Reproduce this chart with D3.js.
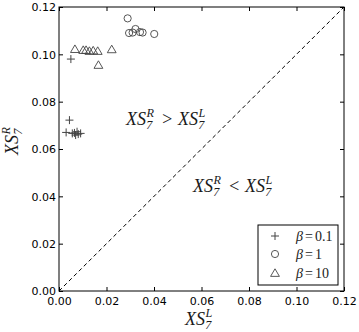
<!DOCTYPE html>
<html>
<head>
<meta charset="utf-8">
<script src="https://cdn.jsdelivr.net/npm/d3@7"></script>
<style>
  body { margin: 0; background: #fff; }
  .tick text { font-family: "DejaVu Sans", sans-serif; font-size: 11px; fill: #000; }
  .math { font-family: "Liberation Serif", serif; font-style: italic; fill: #1a1a1a; }
</style>
</head>
<body>
<div id="chart"></div>
<script>
// data: x = XS7^L, y = XS7^R
const beta01X = [0.0050, 0.0044, 0.0030, 0.0056, 0.0076, 0.0081, 0.0070, 0.0091, 0.0065];
const beta01Y = [0.0980, 0.0722, 0.0670, 0.0666, 0.0673, 0.0663, 0.0659, 0.0666, 0.0668];
const beta1X = [0.0289, 0.0295, 0.0310, 0.0322, 0.0341, 0.0352, 0.0401];
const beta1Y = [0.1152, 0.1090, 0.1092, 0.1107, 0.1094, 0.1092, 0.1086];
const beta10X = [0.0067, 0.0102, 0.0114, 0.0128, 0.0144, 0.0163, 0.0166, 0.0222];
const beta10Y = [0.1022, 0.1018, 0.1018, 0.1014, 0.1016, 0.1014, 0.0955, 0.1021];
const ticks = [0, 0.02, 0.04, 0.06, 0.08, 0.10, 0.12];
const legendLabels = ["0.1", "1", "10"];

const W = 359, H = 332;
const margin = {top: 7, right: 15, bottom: 41, left: 59};
const width = W - margin.left - margin.right;
const height = H - margin.top - margin.bottom;
const markColor = "#444";

const svg = d3.select("#chart").append("svg")
    .attr("width", W).attr("height", H);
const g = svg.append("g")
    .attr("transform", "translate(" + margin.left + "," + margin.top + ")");

const x = d3.scaleLinear().domain([0, 0.12]).range([0, width]);
const y = d3.scaleLinear().domain([0, 0.12]).range([height, 0]);

// axes, ticks pointing inwards on all four sides
const fmt = d3.format(".2f");
g.append("g").attr("class", "x-axis").attr("transform", "translate(0," + height + ")")
    .call(d3.axisBottom(x).tickValues(ticks).tickFormat(fmt).tickSizeInner(-4).tickSizeOuter(0).tickPadding(6));
g.append("g").attr("class", "y-axis")
    .call(d3.axisLeft(y).tickValues(ticks).tickFormat(fmt).tickSizeInner(-4).tickSizeOuter(0).tickPadding(3));
g.append("g")
    .call(d3.axisTop(x).tickValues(ticks).tickFormat("").tickSizeInner(-4).tickSizeOuter(0));
g.append("g").attr("transform", "translate(" + width + ",0)")
    .call(d3.axisRight(y).tickValues(ticks).tickFormat("").tickSizeInner(-4).tickSizeOuter(0));
g.selectAll(".domain").remove();
g.selectAll(".tick line").attr("stroke", "#000");
g.append("rect").attr("width", width).attr("height", height)
    .attr("fill", "none").attr("stroke", "#000").attr("stroke-width", 1);
g.select(".y-axis").selectAll(".tick text").attr("dy", "0.36em");

// diagonal
g.append("line")
    .attr("x1", x(0)).attr("y1", y(0)).attr("x2", x(0.12)).attr("y2", y(0.12))
    .attr("stroke", "#000").attr("stroke-dasharray", "4,3").attr("stroke-width", 1);

// markers
function drawPlus(sel, cx, cy, s) {
    sel.append("path")
        .attr("d", "M" + (cx - s) + "," + cy + "H" + (cx + s) + "M" + cx + "," + (cy - s) + "V" + (cy + s))
        .attr("stroke", markColor).attr("fill", "none").attr("stroke-width", 1);
}
function drawCircle(sel, cx, cy, r) {
    sel.append("circle").attr("cx", cx).attr("cy", cy).attr("r", r)
        .attr("stroke", markColor).attr("fill", "none").attr("stroke-width", 0.9);
}
function drawTri(sel, cx, cy, s) {
    sel.append("path")
        .attr("d", "M" + cx + "," + (cy - s) + "L" + (cx + s * 1.05) + "," + (cy + s * 0.8) + "L" + (cx - s * 1.05) + "," + (cy + s * 0.8) + "Z")
        .attr("stroke", markColor).attr("fill", "none").attr("stroke-width", 0.9);
}
beta01X.forEach((v, i) => drawPlus(g, x(v), y(beta01Y[i]), 4));
beta1X.forEach((v, i) => drawCircle(g, x(v), y(beta1Y[i]), 3.6));
beta10X.forEach((v, i) => drawTri(g, x(v), y(beta10Y[i]), 4.2));

// math label XS_7^sup
function mathXS(sel, px, py, size, sup) {
    let t = sel.append("text").attr("class", "math").attr("x", px).attr("y", py)
        .attr("font-size", size).text("XS");
    let w = t.node().getComputedTextLength();
    sel.append("text").attr("class", "math").attr("x", px + w + 0.5).attr("y", py - size * 0.42)
        .attr("font-size", size * 0.68).text(sup);
    sel.append("text").attr("class", "math").attr("x", px + w + 0.2).attr("y", py + size * 0.24)
        .attr("font-size", size * 0.68).text("7");
    return w + size * 0.55;
}
function compare(sel, px, py, size, op) {
    let w = mathXS(sel, px, py, size, "R");
    let t = sel.append("text").attr("class", "math").attr("font-style", "normal")
        .attr("x", px + w + 5).attr("y", py).attr("font-size", size).text(op);
    let w2 = t.node().getComputedTextLength();
    mathXS(sel, px + w + 5 + w2 + 5, py, size, "L");
}
compare(svg, 126, 125, 18, ">");
compare(svg, 193, 192, 18, "<");

// axis titles
mathXS(svg, 185, 325, 18, "L");
const yt = svg.append("g").attr("transform", "translate(18,155) rotate(-90)");
mathXS(yt, 0, 0, 18, "R");

// legend
const lg = svg.append("g").attr("transform", "translate(258,225)");
lg.append("rect").attr("width", 80).attr("height", 60)
    .attr("fill", "#fff").attr("stroke", "#000").attr("stroke-width", 1);
const rowsY = [11, 29, 48];
drawPlus(lg, 17, rowsY[0], 4);
drawCircle(lg, 17, rowsY[1], 3.6);
drawTri(lg, 17, rowsY[2], 4.2);
legendLabels.forEach((lab, i) => {
    let t = lg.append("text").attr("class", "math").attr("x", 38).attr("y", rowsY[i] + 4.5)
        .attr("font-size", 14);
    t.append("tspan").text("\u03b2");
    t.append("tspan").attr("font-style", "normal").attr("dx", 2).text("=");
    t.append("tspan").attr("font-style", "normal").attr("dx", 2).text(lab);
});
</script>
</body>
</html>
